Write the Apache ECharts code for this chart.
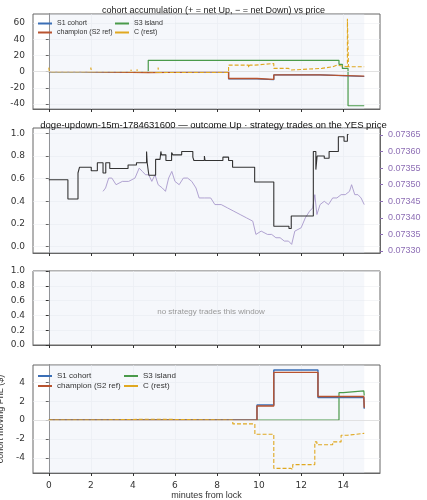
<!DOCTYPE html><html><head><meta charset="utf-8">
<script src="https://cdn.jsdelivr.net/npm/echarts@6/dist/echarts.min.js"></script>
<style>html,body{margin:0;background:#fff}#c{width:427px;height:500px}</style></head><body><div id="c"></div>
<script>
// panel 1: accumulated net YES shares [minute, value]
const accS1=[[0,0],[1.46,-1],[4.73,0],[8.55,-9],[9.9,-10],[10.7,-4],[12.9,-6],[15,-6]];
const accChamp=[[0,0],[1.46,-1],[4.73,0],[8.55,-8.5],[9.9,-9.5],[10.7,-4],[12.9,-5.5],[15,-5.5]];
const accS3=[[0,0],[4.73,14],[13.8,9],[13.96,4],[14.23,-42],[15,-42]];
const accC=[[0,5],[0.03,0],[2.0,5],[2.03,0],[3.9,3],[3.93,0],[4.2,3],[4.23,0],[4.73,-1],[5.2,5],[5.23,-1],[8.55,8],[9.5,5],[9.55,8],[9.8,10],[10.7,4],[11.4,2],[11.5,4],[12.98,6],[13.5,8],[13.7,6],[14.2,65],[14.25,6],[15,6]];
// panel 2: YES (Up) price and DOGE/USD
const yesPrice=[[0,0.59],[0.91,0.42],[1.39,0.65],[1.46,0.70],[2.02,0.67],[2.31,0.74],[2.58,0.65],[2.71,0.74],[2.9,0.69],[3.77,0.72],[4.17,0.74],[4.65,0.84],[4.68,0.74],[4.76,0.63],[5.08,0.77],[5.29,0.78],[5.33,0.84],[5.36,0.81],[5.57,0.76],[5.84,0.83],[5.9,0.81],[6.32,0.84],[6.85,0.79],[6.9,0.76],[7.4,0.80],[7.43,0.76],[8.28,0.79],[8.55,0.76],[8.74,0.70],[9.79,0.57],[10.7,0.18],[11.42,0.16],[11.53,0.27],[12.58,0.84],[12.7,0.68],[12.76,0.80],[13.1,0.78],[13.33,0.84],[13.77,0.97],[14.04,0.93],[14.2,0.99],[14.25,0.99]];
const dogePrice=[[2.58,0.07348],[2.7,0.07349],[2.85,0.07352],[3.0,0.07352],[3.2,0.07350],[3.5,0.07351],[3.8,0.07351],[4.1,0.07352],[4.3,0.07355],[4.45,0.07354],[4.6,0.07353],[4.75,0.07353],[4.9,0.07351],[5.05,0.07353],[5.2,0.07350],[5.4,0.07349],[5.55,0.07348],[5.7,0.07352],[5.85,0.07354],[6.0,0.07351],[6.2,0.07350],[6.4,0.07352],[6.6,0.07352],[6.8,0.07351],[7.0,0.07349],[7.15,0.07346],[7.4,0.07346],[7.7,0.07346],[7.9,0.07344],[8.2,0.07344],[8.5,0.07343],[8.8,0.07342],[9.1,0.07341],[9.4,0.07340],[9.7,0.07339],[9.85,0.07335],[10.1,0.07336],[10.4,0.07335],[10.6,0.07335],[10.8,0.07334],[11.0,0.07334],[11.2,0.07333],[11.4,0.07333],[11.55,0.07332],[11.7,0.07336],[12.0,0.07337],[12.2,0.07340],[12.4,0.07342],[12.55,0.07343],[12.65,0.07347],[12.75,0.07341],[12.9,0.07344],[13.1,0.07345],[13.3,0.07344],[13.5,0.07346],[13.7,0.07346],[13.9,0.07347],[14.1,0.07347],[14.3,0.07348],[14.4,0.07350],[14.55,0.07347],[14.7,0.07347],[14.85,0.07346],[15.0,0.07344]];
const strike=0.07349;
// panel 4: cohort moving PnL ($)
const pnlS1=[[0,0],[9.9,1.6],[10.7,5.3],[12.8,2.4],[14.98,2.4],[15,1.2]];
const pnlChamp=[[0,0],[9.9,1.5],[10.7,5.05],[12.8,2.5],[14.98,2.5],[15,1.3]];
const pnlS3=[[0,0],[13.8,2.9],[14.0,3.1],[14.98,3.1],[15,2.6]];
const pnlC=[[0,0],[2.4,0.05],[3.4,0.1],[4.8,0.1],[5.0,0],[8.75,-0.4],[9.8,-1.5],[10.7,-5.1],[11.5,-5.2],[11.6,-4.7],[12.65,-2.3],[12.75,-2.6],[13.0,-2.6],[13.5,-2.3],[13.9,-1.6],[14.2,-1.4],[15,-1.4]];
const xTicks=[0,2,4,6,8,10,12,14];

const C={s1:'#3b6fb6',ch:'#b8532f',s3:'#4a9a4a',c:'#e0a820',yes:'#333',doge:'#a898cc'};
const gb={left:33,right:47,outerBoundsMode:'none',containLabel:false,borderColor:'#666',borderWidth:1,show:true,backgroundColor:'transparent'};
const grids=[{...gb,top:14,height:95},{...gb,top:128,height:125},{...gb,top:271,height:74},{...gb,top:365,height:108}];
const tl={color:'#333',fontSize:9,fontFamily:'DejaVu Sans'};
const sl={show:true,lineStyle:{color:'#eceef2',width:0.6}};
function xa(i,labels){return {type:'value',gridIndex:i,min:-0.75,max:15.75,interval:2,axisLine:{show:true,onZero:false,lineStyle:{color:'#666'}},axisTick:{show:true,length:3,customValues:xTicks,lineStyle:{color:'#333'}},
 axisLabel:{show:labels,...tl,customValues:xTicks,formatter:v=>v},splitLine:{show:true,lineStyle:{color:'#eceef2',width:0.6}},
 name:labels?'minutes from lock':'',nameLocation:'middle',nameGap:16,nameTextStyle:{color:'#333',fontSize:9}};}
function ya(i,min,max,interval,name,extra){return Object.assign({type:'value',gridIndex:i,min,max,interval,name,nameLocation:'middle',nameGap:22,nameTextStyle:{color:'#333',fontSize:9},
 axisLine:{show:true,lineStyle:{color:'#666'}},axisTick:{show:true,length:3,lineStyle:{color:'#333'}},axisLabel:tl,splitLine:sl},extra||{});}
const band={silent:true,itemStyle:{color:'rgba(225,231,243,0.35)'},data:[[{xAxis:0},{xAxis:15}]]};
function line(name,data,xi,yi,color,w,dashed,z,step){return {name,type:'line',xAxisIndex:xi,yAxisIndex:yi,data,step:step===false?false:'end',showSymbol:false,symbol:'none',z:z||2,
 lineStyle:{color,width:w,type:dashed?[4,2]:'solid'},itemStyle:{color},animation:false};}
function lg(name,left,top,fs){return {data:[{name,icon:'rect'}],left,top,orient:'horizontal',itemWidth:14,itemHeight:2,itemGap:4,padding:0,textStyle:{fontSize:fs,color:'#333'},selectedMode:false};}
const legends=[lg('S1 cohort',38,20,7),lg('champion (S2 ref)',38,29,7),lg('S3 island',115,20,7),lg('C (rest)',115,29,7),
 lg('S1 cohort',38,372,8),lg('champion (S2 ref)',38,382,8),lg('S3 island',124,372,8),lg('C (rest)',124,382,8)];
const opt={animation:false,grid:grids,legend:legends,
 title:[{text:'cohort accumulation (+ = net Up, − = net Down) vs price',left:'center',top:1,textStyle:{fontSize:9,fontWeight:'normal',color:'#222'}},
  {text:'doge-updown-15m-1784631600 — outcome Up · strategy trades on the YES price',left:'center',top:115,textStyle:{fontSize:9.5,fontWeight:'normal',color:'#111'}},
  {text:'no strategy trades this window',left:206,top:303,textAlign:'center',textStyle:{fontSize:8,fontWeight:'normal',color:'#999'}}],
 xAxis:[xa(0,false),xa(1,false),xa(2,false),xa(3,true)],
 yAxis:[ya(0,-46,71,20,'acc. net YES (shares)',{axisLabel:{...tl,customValues:[-40,-20,0,20,40,60]},axisTick:{show:true,length:3,customValues:[-40,-20,0,20,40,60]}}),
  ya(1,-0.056,1.047,0.2,'YES (Up) price',{axisLabel:{...tl,customValues:[0,0.2,0.4,0.6,0.8,1.0],formatter:v=>v.toFixed(1)},axisTick:{show:true,length:3,customValues:[0,0.2,0.4,0.6,0.8,1.0]}}),
  ya(2,0,1,0.2,'strategy PnL ($)',{axisLabel:{...tl,formatter:v=>v.toFixed(1)}}),
  ya(3,-5.59,5.83,2,'cohort moving PnL ($)',{axisLabel:{...tl,customValues:[-4,-2,0,2,4]},axisTick:{show:true,length:3,customValues:[-4,-2,0,2,4]}}),
  {type:'value',gridIndex:1,position:'right',min:0.073294,max:0.073671,name:'DOGE/USD (strike dotted = YES 0.5)',nameLocation:'middle',nameGap:40,nameRotate:-90,
   nameTextStyle:{color:'#8e6fb5',fontSize:7},axisLine:{show:true,lineStyle:{color:'#666'}},axisTick:{show:true,length:3,customValues:[0.0733,0.07335,0.0734,0.07345,0.0735,0.07355,0.0736,0.07365],lineStyle:{color:'#8e6fb5'}},splitLine:{show:false},
   axisLabel:{color:'#8e6fb5',fontSize:9,customValues:[0.0733,0.07335,0.0734,0.07345,0.0735,0.07355,0.0736,0.07365],formatter:v=>v.toFixed(5)}}],
 series:[
  Object.assign(line('S3 island',accS3,0,0,C.s3,1.2),{markArea:band,markLine:{silent:true,symbol:'none',label:{show:false},lineStyle:{color:'#ddd',width:0.8,type:'solid'},data:[{yAxis:0}]}}),
  line('S1 cohort',accS1,0,0,C.s1,1.2),
  line('champion (S2 ref)',accChamp,0,0,C.ch,1.4,false,3),
  line('C (rest)',accC,0,0,C.c,1.1,true,4),
  Object.assign(line('doge',dogePrice,1,4,C.doge,0.9,false,2,false),{markArea:band,markLine:{silent:true,symbol:'none',label:{show:false},lineStyle:{color:'#bbb',width:0.8,type:'dotted'},data:[{yAxis:strike}]}}),
  line('yes',yesPrice,1,1,C.yes,1.1,false,3),
  {type:'line',xAxisIndex:2,yAxisIndex:2,data:[],markArea:{silent:true,itemStyle:{color:'rgba(225,231,243,0.35)'},data:[[{xAxis:0,yAxis:0.02},{xAxis:15,yAxis:0.98}]]}},
  Object.assign(line('S3 island',pnlS3,3,3,C.s3,1.2),{markArea:band,markLine:{silent:true,symbol:'none',label:{show:false},lineStyle:{color:'#ddd',width:0.8,type:'solid'},data:[{yAxis:0}]}}),
  line('S1 cohort',pnlS1,3,3,C.s1,1.4),
  line('champion (S2 ref)',pnlChamp,3,3,C.ch,1.4,false,3),
  line('C (rest)',pnlC,3,3,C.c,1.1,true,4)
 ]};
const ch=echarts.init(document.getElementById('c'),null,{renderer:'canvas'});
ch.setOption(opt);
</script></body></html>
